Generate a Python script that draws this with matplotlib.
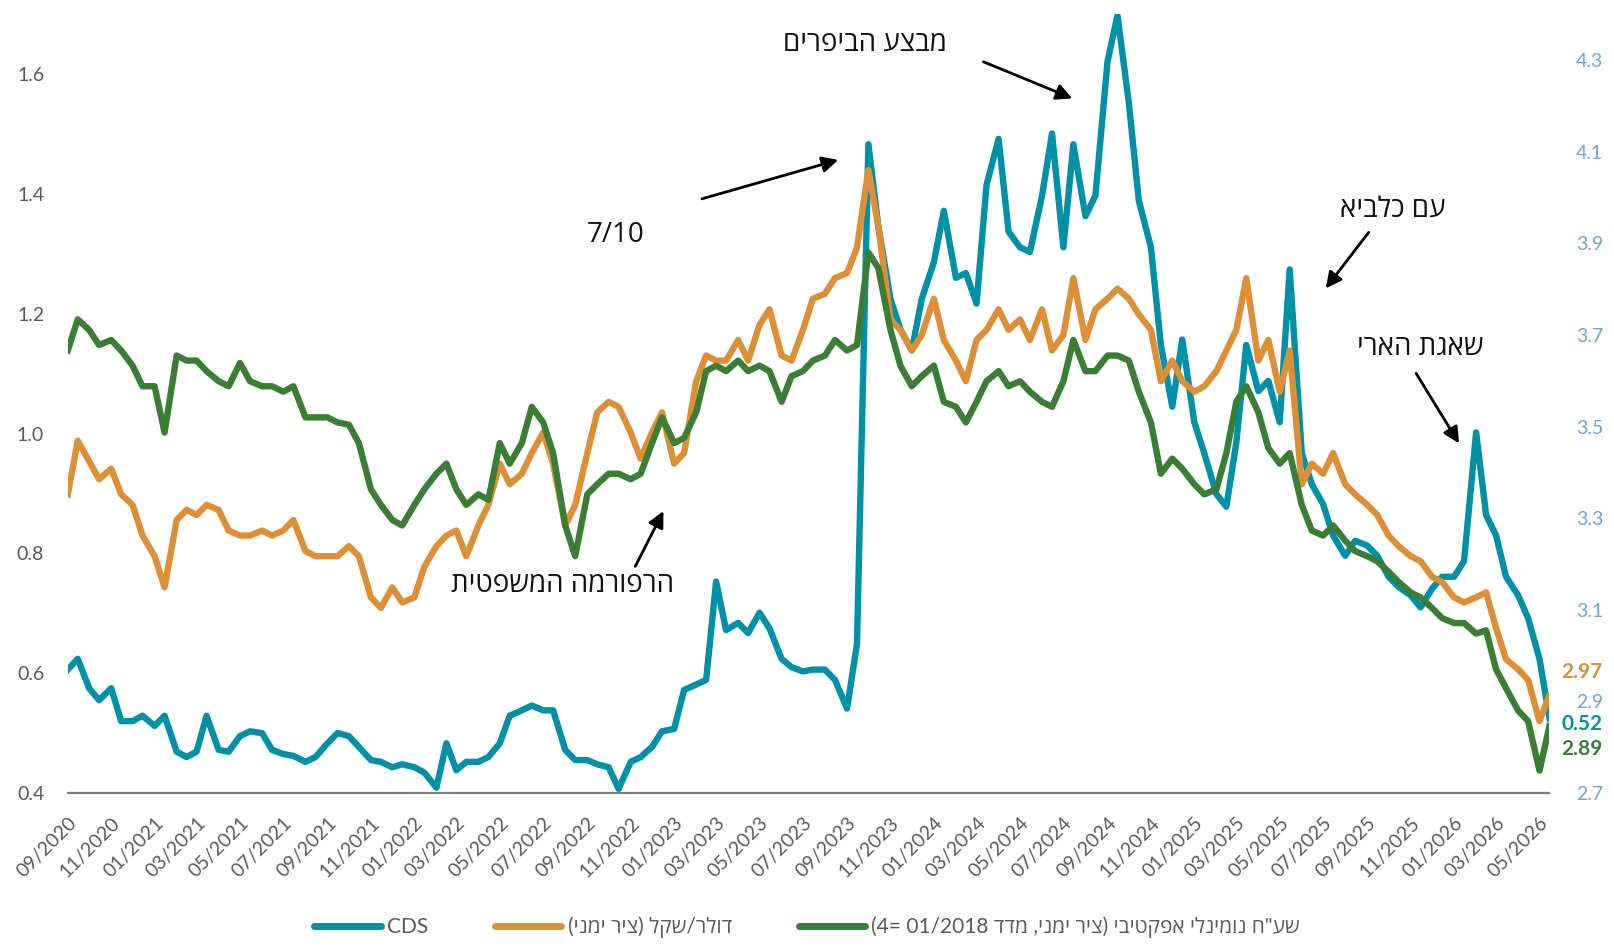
import re
import matplotlib
matplotlib.use('Agg')
import matplotlib.pyplot as plt
import matplotlib.dates as mdates
import pandas as pd

# semi-monthly samples, 09/2020 .. 05/2026
dates = pd.date_range('2020-09-01', periods=138, freq='SMS')

cds = [0.606, 0.624, 0.575, 0.555, 0.575, 0.520, 0.520, 0.529, 0.512, 0.529,
       0.469, 0.460, 0.469, 0.529, 0.472, 0.469, 0.495, 0.503, 0.500, 0.472,
       0.465, 0.462, 0.452, 0.460, 0.483, 0.500, 0.495, 0.477, 0.455, 0.452,
       0.443, 0.448, 0.443, 0.434, 0.409, 0.483, 0.438, 0.452, 0.452, 0.460,
       0.483, 0.529, 0.538, 0.546, 0.538, 0.538, 0.472, 0.455, 0.455, 0.448,
       0.443, 0.407, 0.452, 0.460, 0.477, 0.503, 0.507, 0.572, 0.581, 0.589,
       0.753, 0.672, 0.684, 0.667, 0.701, 0.675, 0.624, 0.610, 0.603, 0.606,
       0.606, 0.589, 0.541, 0.649, 1.483, 1.346, 1.225, 1.174, 1.139, 1.225,
       1.286, 1.372, 1.260, 1.268, 1.217, 1.415, 1.492, 1.337, 1.311, 1.303,
       1.397, 1.501, 1.311, 1.483, 1.363, 1.397, 1.621, 1.698, 1.552, 1.389,
       1.311, 1.148, 1.045, 1.157, 1.019, 0.967, 0.899, 0.878, 0.985, 1.148,
       1.071, 1.088, 1.019, 1.274, 0.967, 0.916, 0.882, 0.830, 0.796, 0.821,
       0.813, 0.796, 0.761, 0.744, 0.730, 0.710, 0.741, 0.761, 0.761, 0.787,
       1.002, 0.864, 0.830, 0.761, 0.730, 0.692, 0.624, 0.525]

usd_ils = [3.352, 3.469, 3.424, 3.385, 3.408, 3.352, 3.329, 3.262, 3.217, 3.149,
           3.296, 3.318, 3.307, 3.329, 3.318, 3.273, 3.262, 3.262, 3.273, 3.262,
           3.273, 3.296, 3.228, 3.217, 3.217, 3.217, 3.239, 3.217, 3.127, 3.104,
           3.149, 3.116, 3.127, 3.194, 3.239, 3.262, 3.273, 3.217, 3.284, 3.329,
           3.419, 3.374, 3.397, 3.442, 3.487, 3.419, 3.284, 3.329, 3.442, 3.531,
           3.554, 3.543, 3.487, 3.430, 3.487, 3.531, 3.419, 3.442, 3.599, 3.655,
           3.644, 3.644, 3.689, 3.644, 3.722, 3.756, 3.655, 3.644, 3.711, 3.779,
           3.790, 3.824, 3.835, 3.891, 4.060, 3.936, 3.734, 3.711, 3.666, 3.700,
           3.779, 3.689, 3.644, 3.599, 3.689, 3.711, 3.756, 3.711, 3.734, 3.689,
           3.756, 3.666, 3.700, 3.824, 3.689, 3.756, 3.779, 3.801, 3.779, 3.745,
           3.711, 3.599, 3.644, 3.599, 3.576, 3.588, 3.621, 3.666, 3.711, 3.824,
           3.644, 3.689, 3.576, 3.666, 3.374, 3.419, 3.397, 3.442, 3.374, 3.352,
           3.329, 3.307, 3.262, 3.239, 3.217, 3.206, 3.172, 3.161, 3.127, 3.116,
           3.127, 3.138, 3.060, 2.992, 2.970, 2.947, 2.857, 2.913]

nominal_eff = [3.666, 3.734, 3.711, 3.678, 3.689, 3.666, 3.633, 3.588, 3.588, 3.487,
               3.655, 3.644, 3.644, 3.621, 3.599, 3.588, 3.639, 3.599, 3.588, 3.588,
               3.576, 3.588, 3.520, 3.520, 3.520, 3.509, 3.504, 3.464, 3.363, 3.329,
               3.296, 3.284, 3.329, 3.363, 3.397, 3.419, 3.363, 3.329, 3.352, 3.340,
               3.464, 3.419, 3.464, 3.543, 3.509, 3.442, 3.284, 3.217, 3.352, 3.374,
               3.397, 3.397, 3.385, 3.397, 3.464, 3.520, 3.464, 3.475, 3.531, 3.621,
               3.633, 3.621, 3.644, 3.621, 3.633, 3.621, 3.554, 3.610, 3.621, 3.644,
               3.655, 3.689, 3.666, 3.678, 3.880, 3.846, 3.711, 3.633, 3.588, 3.610,
               3.633, 3.554, 3.543, 3.509, 3.554, 3.599, 3.621, 3.588, 3.599, 3.576,
               3.554, 3.543, 3.599, 3.689, 3.621, 3.621, 3.655, 3.655, 3.644, 3.576,
               3.509, 3.397, 3.430, 3.408, 3.374, 3.352, 3.363, 3.442, 3.554, 3.588,
               3.531, 3.453, 3.419, 3.442, 3.329, 3.273, 3.262, 3.284, 3.251, 3.228,
               3.217, 3.206, 3.183, 3.161, 3.138, 3.127, 3.104, 3.082, 3.071, 3.071,
               3.048, 3.055, 2.970, 2.929, 2.880, 2.857, 2.749, 2.846]

labels = ['CDS', 'דולר/שקל (ציר ימני)', 'שע"ח נומינלי אפקטיבי (ציר ימני, מדד 01/2018 =4)']
end_labels = ['0.52', '2.97', '2.89']
events = ['מבצע הביפרים', '7/10', 'עם כלביא', 'שאגת הארי', 'הרפורמה המשפטית']

c_cds, c_usd, c_eff = '#0090a8', '#dd8f36', '#3a7d34'
font = ['Open Sans', 'DejaVu Sans']
num_font = ['Lato', 'Open Sans', 'DejaVu Sans']


def rtl(s):
    # crude visual reordering for right-to-left text
    s = s[::-1]
    s = re.sub(r'[0-9A-Za-z.]+(?:/[0-9A-Za-z.]+)*', lambda m: m.group(0)[::-1], s)
    return s.translate(str.maketrans('()', ')('))


fig = plt.figure(figsize=(16.14, 9.52), dpi=100)
ax = fig.add_axes([0.042, 0.167, 0.918, 0.818])
ax2 = ax.twinx()

l1, = ax.plot(dates, cds, color=c_cds, lw=4.6, solid_joinstyle='round')
l2, = ax2.plot(dates, usd_ils, color=c_usd, lw=4.6, solid_joinstyle='round')
l3, = ax2.plot(dates, nominal_eff, color=c_eff, lw=4.6, solid_joinstyle='round')

ax.set_xlim(dates[0], dates[-1])
ax.set_ylim(0.4, 1.7)
ax2.set_ylim(2.7, 4.4)
ax.set_yticks([0.4, 0.6, 0.8, 1.0, 1.2, 1.4, 1.6])
ax2.set_yticks([2.7, 2.9, 3.1, 3.3, 3.5, 3.7, 3.9, 4.1, 4.3])
ax.yaxis.set_major_formatter(matplotlib.ticker.FormatStrFormatter('%.1f'))
ax2.yaxis.set_major_formatter(matplotlib.ticker.FormatStrFormatter('%.1f'))

ax.set_xticks(pd.date_range('2020-09-01', '2026-05-01', freq='2MS'))
ax.xaxis.set_major_formatter(mdates.DateFormatter('%m/%Y'))
for t in ax.get_xticklabels():
    t.set_rotation(45)
    t.set_ha('right')
    t.set_rotation_mode('anchor')
    t.set_family(num_font)

ax.tick_params(axis='x', length=0, pad=15, labelsize=14, labelcolor='#595959')
ax.tick_params(axis='y', length=0, pad=17, labelsize=14, labelcolor='#595959')
ax2.tick_params(axis='y', length=0, pad=19, labelsize=14, labelcolor='#6fa3dc')
for t in ax.get_yticklabels() + ax2.get_yticklabels():
    t.set_family(num_font)

for a in (ax, ax2):
    for s in a.spines.values():
        s.set_visible(False)
ax.spines['bottom'].set_visible(True)
ax.spines['bottom'].set_color('#7f7f7f')
ax.spines['bottom'].set_linewidth(1.6)

# last values at the right edge
ax.annotate(end_labels[0], xy=(1.008, 0.515), xycoords=('axes fraction', 'data'),
            color=c_cds, fontsize=15, fontweight='bold', va='center', family=num_font)
ax2.annotate(end_labels[1], xy=(1.008, 2.965), xycoords=('axes fraction', 'data'),
             color=c_usd, fontsize=15, fontweight='bold', va='center', family=num_font)
ax2.annotate(end_labels[2], xy=(1.008, 2.795), xycoords=('axes fraction', 'data'),
             color=c_eff, fontsize=15, fontweight='bold', va='center', family=num_font)

# event notes
text_pos = [(0.538, 0.962), (0.370, 0.716), (0.894, 0.749), (0.913, 0.571), (0.334, 0.267)]
arrows = [((0.618, 0.939), (0.678, 0.892)),
          ((0.428, 0.763), (0.520, 0.813)),
          ((0.878, 0.720), (0.849, 0.648)),
          ((0.910, 0.539), (0.939, 0.449)),
          ((0.383, 0.291), (0.402, 0.362))]
for txt, pos, (tail, head) in zip(events, text_pos, arrows):
    ax2.text(pos[0], pos[1], rtl(txt), transform=ax2.transAxes, ha='center', va='center',
             fontsize=20, color='#111111', family=font)
    ax2.annotate('', xy=head, xytext=tail, xycoords='axes fraction',
                 arrowprops=dict(arrowstyle='-|>', color='black', lw=2,
                                 mutation_scale=24, shrinkA=0, shrinkB=0))

leg = fig.legend([l1, l2, l3], [rtl(s) if s != 'CDS' else s for s in labels],
                 loc='center', bbox_to_anchor=(0.5, 0.026), ncol=3, frameon=False,
                 handlelength=3.2, handletextpad=0.3, columnspacing=3.2,
                 prop={'family': num_font, 'size': 15})
for t in leg.get_texts():
    t.set_color('#595959')
for h in leg.legend_handles:
    h.set_linewidth(5)
    h.set_solid_capstyle('round')

fig.savefig('out.png', dpi=100)
